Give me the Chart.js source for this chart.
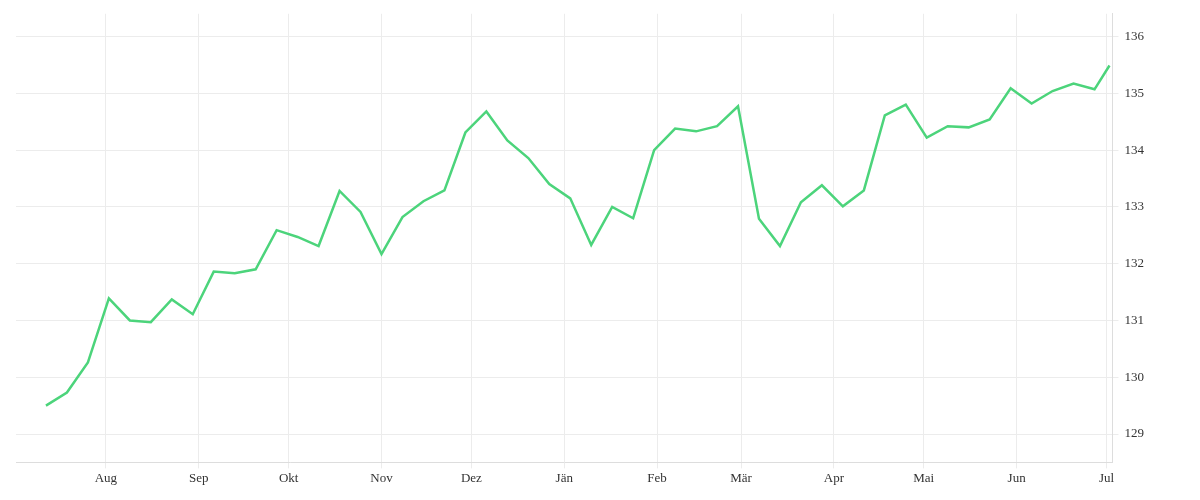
<!DOCTYPE html>
<html>
<head>
<meta charset="utf-8">
<script src="https://cdn.jsdelivr.net/npm/chart.js@4"></script>
<style>
  html, body { margin: 0; padding: 0; background: #fff; }
  #wrap { width: 1200px; height: 500px; }
</style>
</head>
<body>
<div id="wrap"><canvas id="myChart"></canvas></div>
<script>
// days counted from 1 Aug; one point per week
const startDay = -20;
const values = [
  129.5, 129.73, 130.26, 131.39, 131.0, 130.97, 131.37, 131.11, 131.86, 131.83,
  131.9, 132.59, 132.47, 132.31, 133.28, 132.91, 132.17, 132.82, 133.1, 133.29,
  134.31, 134.68, 134.17, 133.86, 133.4, 133.15, 132.33, 133.0, 132.8, 134.0,
  134.38, 134.33, 134.42, 134.77, 132.79, 132.31, 133.08, 133.38, 133.01, 133.29,
  134.61, 134.8, 134.22, 134.42, 134.4, 134.54, 135.09, 134.82, 135.04, 135.17,
  135.07, 135.49
];
const lastDay = 335;
const monthDays = [0, 31, 61, 92, 122, 153, 184, 212, 243, 273, 304, 334];
const monthLabels = ['Aug', 'Sep', 'Okt', 'Nov', 'Dez', 'Jän', 'Feb', 'Mär', 'Apr', 'Mai', 'Jun', 'Jul'];
const yTicks = [129, 130, 131, 132, 133, 134, 135, 136];

const points = values.map((v, i) => ({
  x: i === values.length - 1 ? lastDay : startDay + i * 7,
  y: v
}));

const font = { family: 'Liberation Serif', size: 13 };

new Chart(document.getElementById('myChart').getContext('2d'), {
  type: 'line',
  data: {
    datasets: [{
      data: points,
      borderColor: '#4cd47b',
      borderWidth: 2.5,
      pointRadius: 0,
      fill: false,
      tension: 0
    }]
  },
  options: {
    responsive: true,
    maintainAspectRatio: false,
    animation: false,
    layout: { padding: { left: 16, right: 50, top: 8, bottom: 12 } },
    plugins: { legend: { display: false }, tooltip: { enabled: false } },
    scales: {
      x: {
        type: 'linear',
        min: -30,
        max: 336,
        afterBuildTicks: axis => { axis.ticks = monthDays.map(d => ({ value: d })); },
        ticks: {
          autoSkip: false,
          maxRotation: 0,
          color: '#333',
          font,
          padding: 2,
          callback: (v) => monthLabels[monthDays.indexOf(v)]
        },
        grid: { color: '#ececec', tickLength: 6 },
        border: { color: '#ddd' }
      },
      y: {
        position: 'right',
        min: 128.5,
        max: 136.4,
        afterBuildTicks: axis => { axis.ticks = yTicks.map(v => ({ value: v })); },
        ticks: { color: '#333', font, padding: 6 },
        grid: { color: '#ececec', tickLength: 6 },
        border: { color: '#ddd' }
      }
    }
  }
});
</script>
</body>
</html>
